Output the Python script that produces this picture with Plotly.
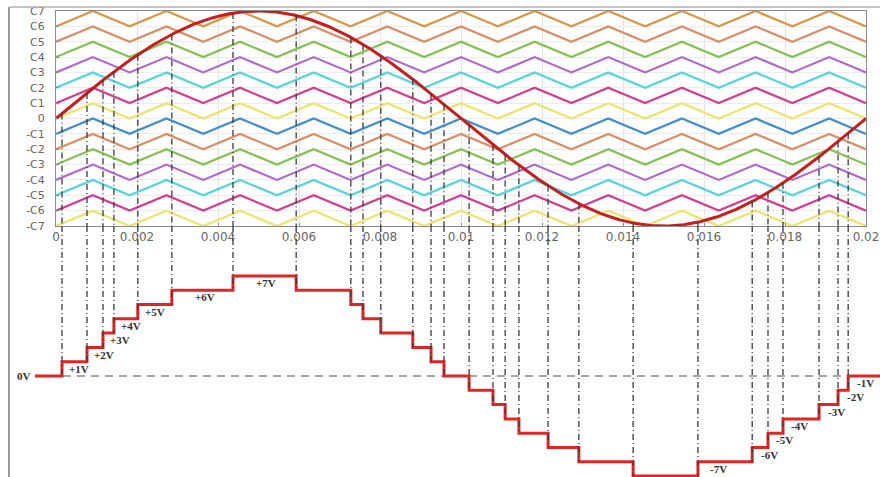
import numpy as np
import plotly.graph_objects as go

# ---- reference / carrier definition (time in seconds, amplitude in levels) ----
t_end = 0.02
ref_amp = 7.0
ref_freq = 50.0
carrier_freq = 550.0

# lower edge of each carrier band, top to bottom
carrier_bases = [6, 5, 4, 3, 2, 1, 0, -1, -2, -3, -4, -5, -6, -7]
carrier_colors = ["#DE9440", "#DE8C62", "#82C24E", "#B462D2", "#52D6DE", "#D93A90",
                  "#EEE46A", "#3F8ED0", "#DE8C62", "#82C24E", "#B462D2", "#52D6DE",
                  "#D93A90", "#EEE46A"]

ytick_vals = [7, 6, 5, 4, 3, 2, 1, 0, -1, -2, -3, -4, -5, -6, -7]
ytick_text = ["C7", "C6", "C5", "C4", "C3", "C2", "C1", "0",
              "-C1", "-C2", "-C3", "-C4", "-C5", "-C6", "-C7"]
xtick_vals = [0, 0.002, 0.004, 0.006, 0.008, 0.01, 0.012, 0.014, 0.016, 0.018, 0.02]
xtick_text = ["0", "0.002", "0.004", "0.006", "0.008", "0.01", "0.012",
              "0.014", "0.016", "0.018", "0.02"]

# ---- staircase output: switching instants and level after each one ----
switch_times = [0.000148, 0.000765, 0.00116, 0.00143, 0.00202, 0.00286, 0.00437,
                0.00593, 0.00728, 0.00758, 0.00802, 0.00881, 0.00926, 0.00958,
                0.0102, 0.01079, 0.01109, 0.01143, 0.01215, 0.01291, 0.01425,
                0.01585, 0.01719, 0.01758, 0.01795, 0.01884, 0.01931, 0.01956]
output_levels = [0, 1, 2, 3, 4, 5, 6, 7, 6, 5, 4, 3, 2, 1, 0,
                 -1, -2, -3, -4, -5, -6, -7, -6, -5, -4, -3, -2, -1, 0]
stair_start = -0.00052

# ---- page geometry (pixels) ----
W, H = 880, 477
PX_PER_S = 40500.0
X0_PX = 56
TOP_PX, MID_PX = 11, 226
ZERO_PX, PX_PER_V = 376, 14.3

x2_range = [-X0_PX / PX_PER_S, (W - X0_PX) / PX_PER_S]
y2_range = [-(H - ZERO_PX) / PX_PER_V, (ZERO_PX - MID_PX) / PX_PER_V]


def ref(t):
    return ref_amp * np.sin(2 * np.pi * ref_freq * np.asarray(t))


fig = go.Figure()

# triangular carriers, all in phase, trough at t = 0
half = 1.0 / carrier_freq / 2
n_vert = int(round(t_end / half)) + 1
tv = np.arange(n_vert) * half
shape01 = np.array([0 if k % 2 == 0 else 1 for k in range(n_vert)], dtype=float)
for base, col in zip(carrier_bases, carrier_colors):
    fig.add_trace(go.Scatter(x=tv, y=base + shape01, mode="lines",
                             line=dict(color=col, width=2.2),
                             xaxis="x", yaxis="y", hoverinfo="skip", showlegend=False))

# sinusoidal reference
ts = np.linspace(0, t_end, 600)
fig.add_trace(go.Scatter(x=ts, y=ref(ts), mode="lines",
                         line=dict(color="#C81E1E", width=3),
                         xaxis="x", yaxis="y", showlegend=False))

# zero reference in the output panel
fig.add_trace(go.Scatter(x=[stair_start, x2_range[1]], y=[0, 0], mode="lines",
                         line=dict(color="#8a8a8a", width=1.5, dash="8px,6px"),
                         xaxis="x2", yaxis="y2", showlegend=False))

# stepped output voltage
stair_x = [stair_start] + switch_times + [x2_range[1]]
stair_y = output_levels + [output_levels[-1]]
fig.add_trace(go.Scatter(x=stair_x, y=stair_y, mode="lines", line_shape="hv",
                         line=dict(color="#E02525", width=3),
                         xaxis="x2", yaxis="y2", showlegend=False))

# projection lines from each crossing down to the output step
proj = dict(color="#3a3a3a", width=1.3, dash="6px,3px,1px,3px")
shapes = []
for i, tsw in enumerate(switch_times):
    lo = min(output_levels[i], output_levels[i + 1])
    shapes.append(dict(type="line", xref="x", yref="y", x0=tsw, x1=tsw,
                       y0=float(ref(tsw)), y1=-7, line=proj, layer="above"))
    shapes.append(dict(type="line", xref="x2", yref="y2", x0=tsw, x1=tsw,
                       y0=y2_range[1], y1=lo, line=proj, layer="above"))

# outer frame
frame_top = (H - 7) / H
shapes.append(dict(type="line", xref="paper", yref="paper", x0=9 / W, x1=9 / W,
                   y0=0, y1=frame_top, line=dict(color="#9a9a9a", width=2)))
shapes.append(dict(type="line", xref="paper", yref="paper", x0=9 / W, x1=1,
                   y0=frame_top, y1=frame_top, line=dict(color="#b0b0b0", width=1.5)))

# step labels on the rising edges
label_font = dict(family="Liberation Serif", size=11, color="#333333")
shift_px = {6: 33, 7: 33, -7: 21}
annotations = []
for i, tsw in enumerate(switch_times):
    a, b = output_levels[i], output_levels[i + 1]
    if b > a:
        lvl = b if b > 0 else a
        dx = shift_px.get(lvl, 17) / PX_PER_S
        annotations.append(dict(x=tsw + dx, y=(a + b) / 2, xref="x2", yref="y2",
                                text="<b>%+dV</b>" % lvl, showarrow=False,
                                xanchor="center", yanchor="middle", font=label_font))
annotations.append(dict(x=stair_start - 2 / PX_PER_S, y=output_levels[0], xref="x2", yref="y2",
                        text="<b>0V</b>", showarrow=False, xanchor="right",
                        yanchor="middle", font=label_font))

fig.update_layout(
    template="none",
    width=W, height=H, margin=dict(l=0, r=0, t=0, b=0, autoexpand=False),
    paper_bgcolor="white", plot_bgcolor="rgba(0,0,0,0)",
    showlegend=False, shapes=shapes, annotations=annotations,
    xaxis=dict(domain=[X0_PX / W, 866 / W], range=[0, t_end], anchor="y",
               automargin=False,
               tickvals=xtick_vals, ticktext=xtick_text,
               tickfont=dict(family="DejaVu Sans", size=12, color="#666666"),
               showline=True, linecolor="#8c8c8c", linewidth=1, mirror=True,
               ticks="inside", ticklen=3, tickcolor="#8c8c8c",
               showgrid=True, gridcolor="#e4e4e4", gridwidth=1, zeroline=False),
    yaxis=dict(domain=[(H - MID_PX) / H, (H - TOP_PX) / H], range=[-7, 7], anchor="x",
               automargin=False,
               tickvals=ytick_vals, ticktext=ytick_text,
               tickfont=dict(family="DejaVu Sans", size=11, color="#666666"),
               ticklabelstandoff=8,
               showline=True, linecolor="#8c8c8c", linewidth=1, mirror=True,
               ticks="inside", ticklen=3, tickcolor="#8c8c8c",
               showgrid=True, gridcolor="#ececec", gridwidth=1, zeroline=False),
    xaxis2=dict(domain=[0, 1], range=x2_range, anchor="y2", visible=False, automargin=False),
    yaxis2=dict(domain=[0, (H - MID_PX) / H], range=y2_range, anchor="x2", visible=False,
                automargin=False),
)

fig.write_html("out.html")
